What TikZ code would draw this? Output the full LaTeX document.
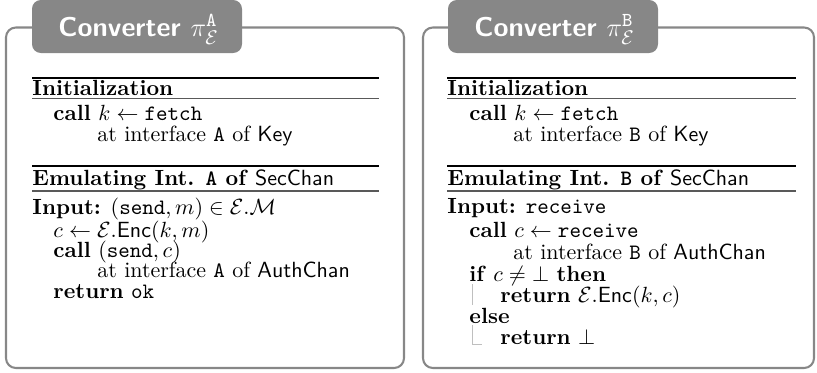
\documentclass[tikz,border=0pt]{standalone}
\usepackage{amsmath,amssymb}
\begin{document}
\begin{tikzpicture}[x=0.455pt,y=-0.455pt,
		frame/.style={draw=black!47,line width=0.95pt,rounded corners=4.5pt},
		tab/.style={fill=black!47,rounded corners=4pt},
		title/.style={anchor=base west,inner sep=0pt,text=white,font=\fontsize{12.4}{15}\selectfont\sffamily\bfseries},
		line/.style={anchor=base west,inner sep=0pt},
		toprule/.style={line width=0.8pt},
		midrule/.style={draw=black!65,line width=0.5pt},
		branch/.style={draw=black!25,line width=0.4pt}]
		\useasboundingbox (0,0) rectangle (817,372);
		% converter A
		\draw[frame] (6,27.5) rectangle (404,368);
		\fill[tab] (32,0) rectangle (242,53);
		\node[title] (titleA) at (58,36) {Converter $\pi^{\mathtt{A}}_{\mathcal{E}}$};
		\draw[toprule] (32,78) -- (379,78);
		\node[line,font=\bfseries] (initA) at (32,95) {Initialization};
		\draw[midrule] (32,98.5) -- (379,98.5);
		\node[line] (fetchA) at (53,120) {\textbf{call} $k \leftarrow \mathtt{fetch}$};
		\node[line] (keyA) at (97,141) {at interface \texttt{A} of $\mathsf{Key}$};
		\draw[toprule] (32,166) -- (379,166);
		\node[line] (emuA) at (32,185) {\textbf{Emulating Int. \texttt{A} of} $\mathsf{SecChan}$};
		\draw[midrule] (32,191) -- (379,191);
		\node[line] (inA) at (32,214) {\textbf{Input:} $(\mathtt{send},m) \in \mathcal{E}.\mathcal{M}$};
		\node[line] (encA) at (53,237) {$c \leftarrow \mathcal{E}.\mathsf{Enc}(k,m)$};
		\node[line] (sendA) at (53,257) {\textbf{call} $(\mathtt{send},c)$};
		\node[line] (authA) at (97,277) {at interface \texttt{A} of $\mathsf{AuthChan}$};
		\node[line] (retA) at (53,298) {\textbf{return} $\mathtt{ok}$};
		% converter B
		\draw[frame] (423,27.5) rectangle (814,368);
		\fill[tab] (448,0) rectangle (658,53);
		\node[title] (titleB) at (474,36) {Converter $\pi^{\mathtt{B}}_{\mathcal{E}}$};
		\draw[toprule] (447,78) -- (796,78);
		\node[line,font=\bfseries] (initB) at (447,95) {Initialization};
		\draw[midrule] (447,98.5) -- (796,98.5);
		\node[line] (fetchB) at (469,120) {\textbf{call} $k \leftarrow \mathtt{fetch}$};
		\node[line] (keyB) at (513,141) {at interface \texttt{B} of $\mathsf{Key}$};
		\draw[toprule] (447,166) -- (796,166);
		\node[line] (emuB) at (447,185) {\textbf{Emulating Int. \texttt{B} of} $\mathsf{SecChan}$};
		\draw[midrule] (447,191) -- (796,191);
		\node[line] (inB) at (447,213) {\textbf{Input:} $\mathtt{receive}$};
		\node[line] (recvB) at (469,237) {\textbf{call} $c \leftarrow \mathtt{receive}$};
		\node[line] (authB) at (513,259) {at interface \texttt{B} of $\mathsf{AuthChan}$};
		\node[line] (ifB) at (469,281) {\textbf{if} $c \neq \bot$ \textbf{then}};
		\node[line] (retB) at (500,302) {\textbf{return} $\mathcal{E}.\mathsf{Enc}(k,c)$};
		\node[line] (elseB) at (469,323) {\textbf{else}};
		\node[line] (botB) at (500,344) {\textbf{return} $\bot$};
		\draw[branch] (472,284) -- (472,305);
		\draw[branch] (472,325) -- (472,344) -- (482,344);
	\end{tikzpicture}
\end{document}
